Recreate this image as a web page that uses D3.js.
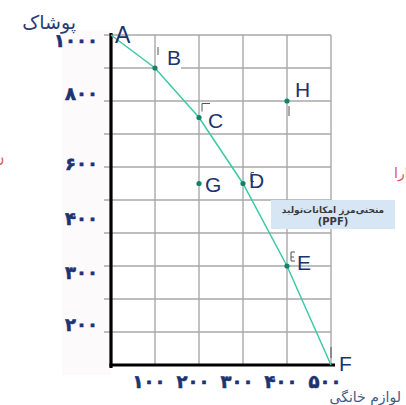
<!DOCTYPE html>
<html><head><meta charset="utf-8">
<script src="https://cdn.jsdelivr.net/npm/d3@7"></script>
<style>body{margin:0;background:#fff}svg{display:block}</style>
</head><body>
<script>
// Data
const pointNames = ["A","B","C","D","E","F"];
const householdGoods = [0,100,200,300,400,500];      // x
const clothing = [1000,900,750,550,300,0];           // y
const extraNames = ["G","H"];
const extraX = [200,400];
const extraY = [550,800];
const xTickValues = [100,200,300,400,500];
const xTickLabels = ["۱۰۰","۲۰۰","۳۰۰","۴۰۰","۵۰۰"];
const yTickLabels = ["۱۰۰۰","۸۰۰","۶۰۰","۴۰۰","۳۰۰","۲۰۰"];
const yTickAt = [985,824,612,445,282,124];
const gridX = [100,200,300,400,500];
const gridY = [100,200,300,400,500,600,700,800,900,1000];

const W=406,H=405;
const svg=d3.select("body").append("svg").attr("width",W).attr("height",H);
const x=d3.scaleLinear().domain([0,500]).range([111,331]);
const y=d3.scaleLinear().domain([0,1000]).range([365,35]);
const navy="#1d3270";

// faint background tint left
svg.append("rect").attr("x",62).attr("y",30).attr("width",49).attr("height",345).attr("fill","#fdfafc");

// grid
svg.append("g").selectAll("line").data(gridX).join("line")
  .attr("x1",d=>x(d)).attr("x2",d=>x(d)).attr("y1",y(1000)).attr("y2",y(0))
  .attr("stroke","#a8a8a8").attr("stroke-width",1.4);
svg.append("g").selectAll("line").data(gridY).join("line")
  .attr("x1",x(0)-7).attr("x2",x(500)).attr("y1",d=>y(d)).attr("y2",d=>y(d))
  .attr("stroke","#a8a8a8").attr("stroke-width",1.4);

// white label backgrounds
const allNames = pointNames.concat(extraNames);
const allX = householdGoods.concat(extraX);
const allY = clothing.concat(extraY);
const boxOff = {B:[2,-16,24,22],G:[4,-10,30,24],H:[3,5,22,18],C:[8,-6,20,20],D:[3,-12,26,20],E:[3,-18,24,14]};
Object.keys(boxOff).forEach(n=>{
  const i=allNames.indexOf(n), o=boxOff[n];
  svg.append("rect").attr("x",x(allX[i])+o[0]).attr("y",y(allY[i])+o[1])
    .attr("width",o[2]).attr("height",o[3]).attr("fill","#fff");
});

// axes
svg.append("line").attr("x1",x(0)).attr("x2",x(0)).attr("y1",y(1000)-2).attr("y2",y(0)+3)
  .attr("stroke","#000").attr("stroke-width",3.2);
svg.append("line").attr("x1",x(0)-1.5).attr("x2",x(500)+4).attr("y1",y(0)).attr("y2",y(0))
  .attr("stroke","#000").attr("stroke-width",3.2);

// PPF curve
const pts=householdGoods.map((v,i)=>[x(v),y(clothing[i])]);
svg.append("path").attr("d",d3.line()(pts)).attr("fill","none")
  .attr("stroke","#3cc9a6").attr("stroke-width",1.5);

// dots
svg.append("g").selectAll("circle").data(allNames.slice(1,5).concat(extraNames)).join("circle")
  .attr("cx",n=>x(allX[allNames.indexOf(n)])).attr("cy",n=>y(allY[allNames.indexOf(n)]))
  .attr("r",2.6).attr("fill","#17806a");

// cursor artifacts
const art = {B:"M3,-13 v-8", C:"M3,-6 v-8 h8", D:"M8,-2 v-9 h3 M8,-2 h3", E:"M4,-5 v-9 h4 M4,-9 h3 M4,-5 h4", F:"M0,-7 v-11", H:"M2,5 v10"};
Object.keys(art).forEach(n=>{
  const i=allNames.indexOf(n);
  svg.append("path").attr("transform",`translate(${x(allX[i])},${y(allY[i])})`)
    .attr("d",art[n]).attr("fill","none").attr("stroke","#555").attr("stroke-width",1);
});

// point labels
const lblOff={A:[4,8],B:[12,-3],C:[9,10],D:[6,4],E:[10,4],F:[8,6],G:[6,8],H:[8,-4]};
svg.append("g").selectAll("text").data(allNames).join("text")
  .attr("x",n=>x(allX[allNames.indexOf(n)])+lblOff[n][0])
  .attr("y",n=>y(allY[allNames.indexOf(n)])+lblOff[n][1])
  .attr("font-family","Liberation Sans, Arial, sans-serif").attr("font-size",n=>n==="A"?23:21)
  .attr("fill",navy).text(n=>n);

// tick labels
svg.append("g").selectAll("text").data(xTickValues).join("text")
  .attr("x",d=>x(d)-6).attr("y",388).attr("text-anchor","middle")
  .attr("font-family","DejaVu Sans").attr("font-weight","bold").attr("font-size",18)
  .attr("fill",navy).attr("stroke",navy).attr("stroke-width",0.6).text((d,i)=>xTickLabels[i]);
svg.append("g").selectAll("text").data(yTickAt).join("text")
  .attr("x",98).attr("y",d=>y(d)+7).attr("text-anchor","end")
  .attr("font-family","DejaVu Sans").attr("font-weight","bold").attr("font-size",18)
  .attr("fill",navy).attr("stroke",navy).attr("stroke-width",0.6).text((d,i)=>yTickLabels[i]);

// axis titles
svg.append("text").attr("x",76).attr("y",29).attr("text-anchor","end")
  .attr("font-family","DejaVu Sans").attr("font-size",19).attr("fill","#2a3d78").text("پوشاک");
svg.append("text").attr("x",401).attr("y",402).attr("text-anchor","end")
  .attr("font-family","DejaVu Sans").attr("font-size",14).attr("fill","#44598a").text("لوازم خانگی");

// PPF box
svg.append("rect").attr("x",271).attr("y",200).attr("width",124).attr("height",29).attr("fill","#d6e6f5");
svg.append("text").attr("x",333).attr("y",213).attr("text-anchor","middle")
  .attr("font-family","DejaVu Sans").attr("font-weight","bold").attr("font-size",9).attr("fill","#3a3a3a").text("منحنی‌مرز امکانات‌تولید");
svg.append("text").attr("x",333).attr("y",225).attr("text-anchor","middle")
  .attr("font-family","DejaVu Sans").attr("font-weight","bold").attr("font-size",10).attr("fill","#3a3a3a").text("(PPF)");

// red clipped fragments
svg.append("text").attr("x",-6).attr("y",163).attr("font-family","DejaVu Sans").attr("font-size",14)
  .attr("fill","#e05060").text("ن");
svg.append("text").attr("x",394).attr("y",178).attr("font-family","DejaVu Sans").attr("font-size",14)
  .attr("fill","#e05060").text("ارا");
</script>
</body></html>
